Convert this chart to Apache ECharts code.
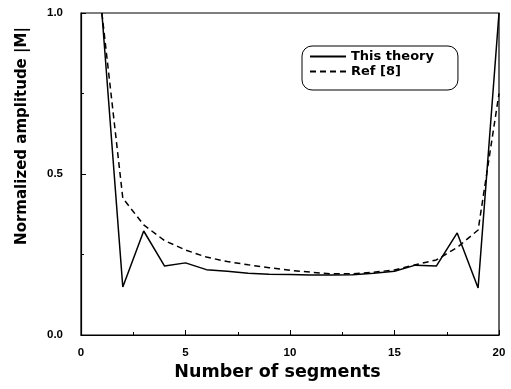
<!DOCTYPE html>
<html>
<head>
<meta charset="utf-8">
<script src="https://cdn.jsdelivr.net/npm/echarts@6/dist/echarts.min.js"></script>
<style>
  html, body { margin: 0; padding: 0; background: #fff; }
  #chart { width: 511px; height: 389px; }
</style>
</head>
<body>
<div id="chart"></div>
<script>
// Number of segments along the x axis
const segments = [1, 2, 3, 4, 5, 6, 7, 8, 9, 10, 11, 12, 13, 14, 15, 16, 17, 18, 19, 20];
// Normalized amplitude |M| from this theory
const thisTheory = [1.0, 0.149, 0.323, 0.214, 0.224, 0.203, 0.198, 0.192, 0.189, 0.188,
                    0.186, 0.186, 0.187, 0.192, 0.198, 0.217, 0.214, 0.317, 0.146, 1.0];
// Normalized amplitude |M| from Ref [8]
const ref8 = [1.0, 0.425, 0.342, 0.293, 0.264, 0.242, 0.228, 0.218, 0.209, 0.201,
              0.195, 0.190, 0.190, 0.195, 0.202, 0.218, 0.233, 0.272, 0.326, 0.75];

const pairs = (xs, ys) => xs.map((x, i) => [x, ys[i]]);

const tickFont = { fontFamily: 'Liberation Sans', fontWeight: 'bold', fontSize: 11.5, color: '#000' };
const titleFont = { fontFamily: 'DejaVu Sans', fontWeight: 'bold', color: '#000' };

const chart = echarts.init(document.getElementById('chart'), null, { renderer: 'canvas' });
chart.setOption({
  animation: false,
  backgroundColor: '#fff',
  grid: {
    left: 81, right: 12, top: 13, bottom: 54,
    show: true, borderColor: '#000', borderWidth: 1.2, backgroundColor: 'transparent'
  },
  legend: {
    orient: 'vertical',
    left: 302, top: 46,
    padding: [4, 24, 12, 7],
    itemGap: 2,
    itemWidth: 36, itemHeight: 14,
    // line-only keys: hide the marker drawn on top of the line sample
    itemStyle: { opacity: 0 },
    borderColor: '#000', borderWidth: 1, borderRadius: 10,
    textStyle: Object.assign({}, titleFont, { fontSize: 13 }),
    data: ['This theory', 'Ref [8]']
  },
  xAxis: {
    type: 'value', min: 0, max: 20, interval: 5,
    name: 'Number of segments', nameLocation: 'middle', nameGap: 27,
    nameTextStyle: Object.assign({}, titleFont, { fontSize: 17.5, padding: [0, 25, 0, 0] }),
    axisLine: { show: true, lineStyle: { color: '#000', width: 1.2 } },
    axisTick: { show: true, inside: true, length: 5, lineStyle: { color: '#000' } },
    minorTick: { show: true, splitNumber: 2, length: 3, lineStyle: { color: '#000' } },
    axisLabel: Object.assign({ margin: 12 }, tickFont),
    splitLine: { show: false }
  },
  yAxis: {
    type: 'value', min: 0, max: 1, interval: 0.5,
    name: 'Normalized amplitude |M|', nameLocation: 'middle', nameGap: 51,
    nameTextStyle: Object.assign({}, titleFont, { fontSize: 15, padding: [0, 0, 0, 76] }),
    axisLine: { show: true, lineStyle: { color: '#000', width: 1.2 } },
    axisTick: { show: true, inside: true, length: 5, lineStyle: { color: '#000' } },
    minorTick: { show: true, splitNumber: 2, length: 3, lineStyle: { color: '#000' } },
    axisLabel: Object.assign({ margin: 18, formatter: v => v.toFixed(1) }, tickFont),
    splitLine: { show: false }
  },
  series: [
    {
      name: 'This theory', type: 'line', data: pairs(segments, thisTheory),
      symbol: 'none', clip: true,
      lineStyle: { color: '#000', width: 1.5, type: 'solid' },
      itemStyle: { color: '#000' }
    },
    {
      name: 'Ref [8]', type: 'line', data: pairs(segments, ref8),
      symbol: 'none', clip: true,
      lineStyle: { color: '#000', width: 1.5, type: [6, 4] },
      itemStyle: { color: '#000' }
    }
  ]
});
</script>
</body>
</html>
